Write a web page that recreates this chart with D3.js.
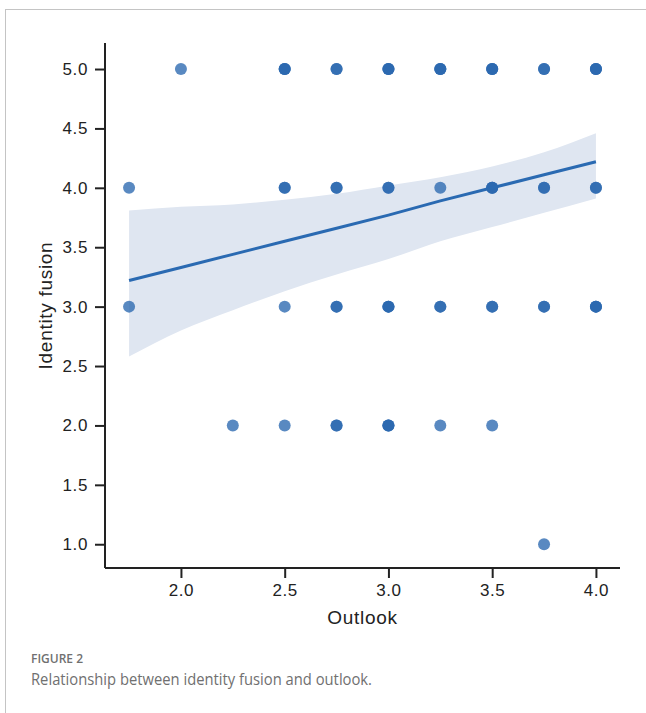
<!DOCTYPE html>
<html>
<head>
<meta charset="utf-8">
<script src="https://cdn.jsdelivr.net/npm/d3@7"></script>
<style>
  html, body { margin: 0; padding: 0; background: #fff; }
  svg { display: block; }
  .ax { font-family: "Liberation Sans", Arial, Helvetica, sans-serif; }
</style>
</head>
<body>
<svg id="chart" width="646" height="713"></svg>
<script>
// ---- data ----
const pointX = [2.0, 2.5, 2.75, 3.0, 3.25, 3.5, 3.75, 4.0,
                1.75, 2.5, 2.75, 3.0, 3.25, 3.5, 3.75, 4.0,
                1.75, 2.5, 2.75, 3.0, 3.25, 3.5, 3.75, 4.0,
                2.25, 2.5, 2.75, 3.0, 3.25, 3.5,
                3.75];
const pointY = [5, 5, 5, 5, 5, 5, 5, 5,
                4, 4, 4, 4, 4, 4, 4, 4,
                3, 3, 3, 3, 3, 3, 3, 3,
                2, 2, 2, 2, 2, 2,
                1];
const pointCount = [1, 3, 2, 3, 3, 3, 2, 3,
                    1, 2, 2, 2, 1, 3, 2, 2,
                    1, 1, 2, 3, 2, 2, 2, 3,
                    1, 1, 2, 3, 1, 1,
                    1];
const fitX     = [1.75, 2.0, 2.25, 2.5, 2.75, 3.0, 3.25, 3.5, 3.75, 4.0];
const fitY     = [3.22, 3.33, 3.44, 3.55, 3.66, 3.77, 3.89, 4.00, 4.11, 4.22];
const ciUpper  = [3.81, 3.84, 3.86, 3.90, 3.95, 4.02, 4.09, 4.18, 4.30, 4.46];
const ciLower  = [2.58, 2.80, 2.97, 3.13, 3.27, 3.40, 3.55, 3.67, 3.79, 3.91];
const xTicks = [2.0, 2.5, 3.0, 3.5, 4.0];
const yTicks = [1.0, 1.5, 2.0, 2.5, 3.0, 3.5, 4.0, 4.5, 5.0];
const xLabel = "Outlook";
const yLabel = "Identity fusion";
const figLabel = "FIGURE 2";
const figCaption = "Relationship between identity fusion and outlook.";

(function () {
// ---- layout ----
const svg = d3.select("#chart");
const pL = 105, pR = 620, pT = 43, pB = 568;
const x = d3.scaleLinear().domain([1.634, 4.116]).range([pL, pR]);
const y = d3.scaleLinear().domain([0.80, 5.219]).range([pB, pT]);

const pointColor = "#2a68b0";
const lineColor = "#2a6ab2";

// frame lines
svg.append("line").attr("x1", 5).attr("x2", 646).attr("y1", 9.5).attr("y2", 9.5)
  .attr("stroke", "#c4c4c4").attr("stroke-width", 1);
svg.append("line").attr("x1", 5.5).attr("x2", 5.5).attr("y1", 9).attr("y2", 713)
  .attr("stroke", "#c4c4c4").attr("stroke-width", 1);

// CI band
const band = fitX.map((v, i) => ({x: v, lo: ciLower[i], hi: ciUpper[i]}));
svg.append("path").datum(band)
  .attr("d", d3.area().x(d => x(d.x)).y0(d => y(d.lo)).y1(d => y(d.hi)).curve(d3.curveMonotoneX))
  .attr("fill", "#dfe6f1");

// points (stacked duplicates darken)
const pts = [];
pointX.forEach((v, i) => {
  for (let k = 0; k < pointCount[i]; k++) pts.push({x: v, y: pointY[i]});
});
svg.append("g").selectAll("circle").data(pts).join("circle")
  .attr("cx", d => x(d.x)).attr("cy", d => y(d.y)).attr("r", 6)
  .attr("fill", pointColor).attr("fill-opacity", 0.78);

// regression line
svg.append("path").datum(fitX.map((v, i) => ({x: v, y: fitY[i]})))
  .attr("d", d3.line().x(d => x(d.x)).y(d => y(d.y)))
  .attr("fill", "none").attr("stroke", lineColor).attr("stroke-width", 3);

// axes
const xAxis = svg.append("g").attr("transform", `translate(0,${pB})`)
  .call(d3.axisBottom(x).tickValues(xTicks).tickFormat(d3.format(".1f")).tickSize(10).tickPadding(6));
const yAxis = svg.append("g").attr("transform", `translate(${pL},0)`)
  .call(d3.axisLeft(y).tickValues(yTicks).tickFormat(d3.format(".1f")).tickSize(10).tickPadding(7));
[xAxis, yAxis].forEach(g => {
  g.attr("font-family", null).attr("font-size", null).attr("class", "ax");
  g.select(".domain").attr("stroke", "#222").attr("stroke-width", 2);
  g.selectAll(".tick line").attr("stroke", "#222").attr("stroke-width", 2);
  g.selectAll(".tick text").attr("fill", "#222").attr("class", "ax")
    .attr("font-size", "17px").attr("letter-spacing", "0.6px");
});
xAxis.select(".domain").attr("d", `M${pL},0H${pR}`);
yAxis.select(".domain").attr("d", `M0,${pT}V${pB}`);

// axis labels
svg.append("text").attr("class", "ax").attr("x", (pL + pR) / 2).attr("y", 624)
  .attr("text-anchor", "middle").attr("fill", "#222")
  .attr("font-size", "19px").attr("letter-spacing", "0.7px")
  .text(xLabel);
svg.append("text").attr("class", "ax").attr("transform", `translate(52,${(pT + pB) / 2}) rotate(-90)`)
  .attr("text-anchor", "middle").attr("fill", "#222")
  .attr("font-size", "19px").attr("letter-spacing", "0.7px")
  .text(yLabel);

// caption
svg.append("text").attr("x", 31).attr("y", 663)
  .attr("fill", "#707070")
  .style("font-family", "'Open Sans', sans-serif").style("font-size", "12px").style("font-weight", "600")
  .attr("textLength", 52).attr("lengthAdjust", "spacingAndGlyphs")
  .text(figLabel);
svg.append("text").attr("x", 31).attr("y", 685)
  .attr("fill", "#707070")
  .style("font-family", "'Open Sans', sans-serif").style("font-size", "17px")
  .attr("textLength", 341).attr("lengthAdjust", "spacingAndGlyphs")
  .text(figCaption);
})();
</script>
</body>
</html>
